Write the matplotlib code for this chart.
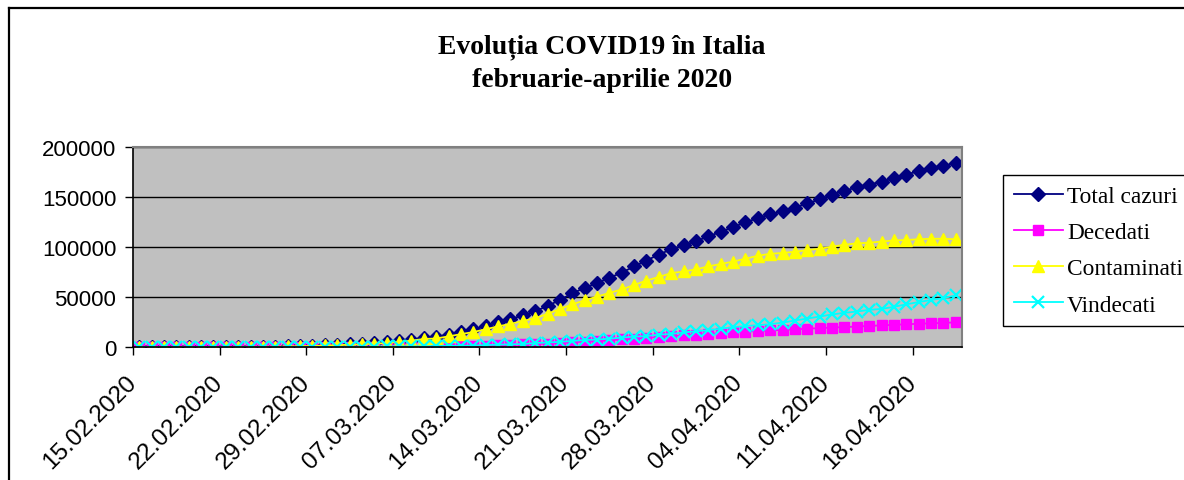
import matplotlib
matplotlib.use('Agg')
import matplotlib.pyplot as plt
from matplotlib.lines import Line2D

# date zilnice 15.02.2020 - 21.04.2020
zile = ['15.02.2020', '16.02.2020', '17.02.2020', '18.02.2020', '19.02.2020', '20.02.2020', '21.02.2020',
        '22.02.2020', '23.02.2020', '24.02.2020', '25.02.2020', '26.02.2020', '27.02.2020', '28.02.2020',
        '29.02.2020', '01.03.2020', '02.03.2020', '03.03.2020', '04.03.2020', '05.03.2020', '06.03.2020',
        '07.03.2020', '08.03.2020', '09.03.2020', '10.03.2020', '11.03.2020', '12.03.2020', '13.03.2020',
        '14.03.2020', '15.03.2020', '16.03.2020', '17.03.2020', '18.03.2020', '19.03.2020', '20.03.2020',
        '21.03.2020', '22.03.2020', '23.03.2020', '24.03.2020', '25.03.2020', '26.03.2020', '27.03.2020',
        '28.03.2020', '29.03.2020', '30.03.2020', '31.03.2020', '01.04.2020', '02.04.2020', '03.04.2020',
        '04.04.2020', '05.04.2020', '06.04.2020', '07.04.2020', '08.04.2020', '09.04.2020', '10.04.2020',
        '11.04.2020', '12.04.2020', '13.04.2020', '14.04.2020', '15.04.2020', '16.04.2020', '17.04.2020',
        '18.04.2020', '19.04.2020', '20.04.2020', '21.04.2020']

total = [3, 3, 3, 3, 3, 3, 20, 79, 152, 229, 322, 400, 650, 888, 1128,
         1694, 2036, 2502, 3089, 3858, 4636, 5883, 7375, 9172, 10149, 12462, 15113, 17660,
         21157, 24747, 27980, 31506, 35713, 41035, 47021, 53578, 59138, 63927, 69176, 74386,
         80539, 86498, 92472, 97689, 101739, 105792,
         110574, 115242, 119827, 124632, 128948, 132547, 135586, 139422, 143626, 147577,
         152271, 156363, 159516, 162488, 165155, 168941, 172434, 175925, 178972, 181228, 183957]

decedati = [0, 0, 0, 0, 0, 0, 1, 2, 3, 7, 10, 12, 17, 21, 29,
            34, 52, 79, 107, 148, 197, 233, 366, 463, 631, 827, 1016, 1266,
            1441, 1809, 2158, 2503, 2978, 3405, 4032, 4825, 5476, 6077, 6820, 7503,
            8165, 9134, 10023, 10779, 11591, 12428,
            13155, 13915, 14681, 15362, 15887, 16523, 17127, 17669, 18279, 18849,
            19468, 19899, 20465, 21067, 21645, 22170, 22745, 23227, 23660, 24114, 24648]

contaminati = [3, 3, 3, 3, 3, 3, 19, 77, 149, 221, 311, 385, 588, 821, 1049,
               1577, 1835, 2263, 2706, 3296, 3916, 5061, 6387, 7985, 8514, 10590, 12839, 14955,
               17750, 20603, 23073, 26062, 28710, 33190, 37860, 42681, 46638, 50418, 54030, 57521,
               62013, 66414, 70065, 73880, 75528, 77635,
               80572, 83049, 85388, 88274, 91246, 93187, 94067, 95262, 96877, 98273,
               100269, 102253, 103616, 104291, 105418, 106607, 106962, 107771, 108257, 108237, 107709]

vindecati = [0, 0, 0, 0, 0, 0, 0, 0, 0, 1, 1, 3, 45, 46, 50,
             83, 149, 160, 276, 414, 523, 589, 622, 724, 1004, 1045, 1258, 1439,
             1966, 2335, 2749, 2941, 4025, 4440, 5129, 6072, 7024, 7432, 8326, 9362,
             10361, 10950, 12384, 13030, 14620, 15729,
             16847, 18278, 19758, 20996, 21815, 22837, 24392, 26491, 28470, 30455,
             32534, 34211, 35435, 37130, 38092, 40164, 42727, 44927, 47055, 48877, 51600]

W, H = 1184, 481
fig = plt.figure(figsize=(W / 100, H / 100), dpi=100)
ax = fig.add_axes([133 / W, 1 - 348 / H, (962 - 133) / W, 200 / H])
ax.set_facecolor('#C0C0C0')

x = list(range(len(zile)))
ax.plot(x, total, '-D', color='#000080', ms=7.3, lw=1.3, label='Total cazuri')
ax.plot(x, decedati, '-s', color='#FF00FF', ms=7.8, lw=1.3, label='Decedati')
ax.plot(x, contaminati, '-^', color='#FFFF00', ms=9, lw=1.3, label='Contaminati')
ax.plot(x, vindecati, '-x', color='#00FFFF', ms=9, mew=1.6, lw=1.3, label='Vindecati')

ax.set_xlim(-0.5, len(zile) - 0.5)
ax.set_ylim(0, 200000)
ax.set_yticks([0, 50000, 100000, 150000, 200000])
ax.set_yticklabels(['0', '50000', '100000', '150000', '200000'],
                   fontfamily='Liberation Sans', fontsize=16)
ax.grid(axis='y', color='black', lw=1)
ax.set_axisbelow(True)

pos = [i - 0.5 for i in range(0, len(zile), 7)]
ax.set_xticks(pos)
ax.set_xticklabels(zile[::7], rotation=45, ha='right', va='center', rotation_mode='anchor',
                   fontfamily='Liberation Sans', fontsize=17.5)
ax.tick_params(axis='both', direction='out', length=6, width=1, color='black', pad=6)
ax.tick_params(axis='x', pad=17)

for s in ['left', 'bottom']:
    ax.spines[s].set_color('black')
    ax.spines[s].set_linewidth(1.2)
for s in ['top', 'right']:
    ax.spines[s].set_color('#808080')
    ax.spines[s].set_linewidth(1.5)

fig.text(602 / W, 1 - 47 / H, 'Evoluția COVID19 în Italia', ha='center', va='center',
         fontfamily='Liberation Serif', fontweight='bold', fontsize=20)
fig.text(602 / W, 1 - 81 / H, 'februarie-aprilie 2020', ha='center', va='center',
         fontfamily='Liberation Serif', fontweight='bold', fontsize=20)

leg = fig.legend(loc='upper left', bbox_to_anchor=(1003 / W, 1 - 176 / H),
                 prop={'family': 'Liberation Serif', 'size': 16.8},
                 frameon=True, fancybox=False, edgecolor='black', framealpha=1,
                 handlelength=2.1, handletextpad=0.2, labelspacing=0.64,
                 borderpad=0.45, borderaxespad=0)
leg.get_frame().set_linewidth(1)

# chenarul graficului
fig.add_artist(Line2D([9 / W, 9 / W], [0, 1 - 9 / H], color='black', lw=1.6))
fig.add_artist(Line2D([9 / W, 1], [1 - 9 / H, 1 - 9 / H], color='black', lw=1.6))

fig.savefig('out.png', dpi=100)
